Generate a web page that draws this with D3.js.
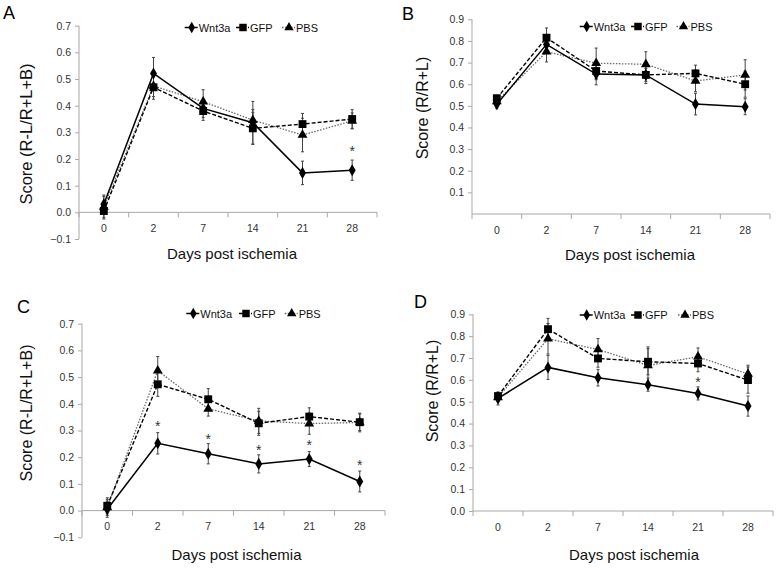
<!DOCTYPE html>
<html>
<head>
<meta charset="utf-8">
<script src="https://cdn.jsdelivr.net/npm/d3@7"></script>
<style>
  html, body { margin: 0; padding: 0; background: #fff; }
  svg { display: block; font-family: "Liberation Sans", Arial, sans-serif; }
</style>
</head>
<body>
<svg id="chart" width="777" height="568"></svg>
<script>
// ---------------- DATA ----------------
const days = ["0", "2", "7", "14", "21", "28"];
const seriesNames = ["Wnt3a", "GFP", "PBS"];

// Panel A : Score (R-L/R+L+B)
const aWnt3a    = [0.030, 0.521, 0.390, 0.336, 0.148, 0.158];
const aWnt3aErr = [0.035, 0.060, 0.035, 0.080, 0.044, 0.038];
const aGFP      = [0.005, 0.469, 0.380, 0.315, 0.331, 0.350];
const aGFPErr   = [0.030, 0.045, 0.035, 0.060, 0.040, 0.035];
const aPBS      = [0.020, 0.474, 0.415, 0.346, 0.290, 0.343];
const aPBSErr   = [0.040, 0.040, 0.045, 0.040, 0.063, 0.030];
const aStars    = [null, null, null, null, null, 0.237];
const aTicks    = [-0.1, 0.0, 0.1, 0.2, 0.3, 0.4, 0.5, 0.6, 0.7];

// Panel B : Score (R/R+L)
const bWnt3a    = [0.507, 0.784, 0.647, 0.643, 0.508, 0.496];
const bWnt3aErr = [0.020, 0.040, 0.050, 0.040, 0.050, 0.037];
const bGFP      = [0.535, 0.815, 0.661, 0.643, 0.650, 0.600];
const bGFPErr   = [0.015, 0.045, 0.040, 0.030, 0.038, 0.060];
const bPBS      = [0.520, 0.750, 0.697, 0.692, 0.615, 0.643];
const bPBSErr   = [0.020, 0.047, 0.070, 0.058, 0.050, 0.070];
const bStars    = [null, null, null, null, null, null];
const bTicks    = [0.1, 0.2, 0.3, 0.4, 0.5, 0.6, 0.7, 0.8, 0.9];

// Panel C : Score (R-L/R+L+B)
const cWnt3a    = [0.005, 0.252, 0.213, 0.175, 0.193, 0.109];
const cWnt3aErr = [0.030, 0.040, 0.038, 0.034, 0.028, 0.039];
const cGFP      = [0.018, 0.473, 0.417, 0.327, 0.352, 0.331];
const cGFPErr   = [0.030, 0.045, 0.040, 0.045, 0.033, 0.031];
const cPBS      = [0.012, 0.524, 0.381, 0.336, 0.326, 0.330];
const cPBSErr   = [0.030, 0.053, 0.027, 0.047, 0.040, 0.035];
const cStars    = [null, 0.325, 0.277, 0.236, 0.252, 0.180];
const cTicks    = [-0.1, 0.0, 0.1, 0.2, 0.3, 0.4, 0.5, 0.6, 0.7];

// Panel D : Score (R/R+L)
const dWnt3a    = [0.515, 0.657, 0.610, 0.578, 0.538, 0.480];
const dWnt3aErr = [0.030, 0.055, 0.038, 0.030, 0.030, 0.046];
const dGFP      = [0.526, 0.832, 0.698, 0.683, 0.675, 0.599];
const dGFPErr   = [0.015, 0.049, 0.040, 0.060, 0.038, 0.060];
const dPBS      = [0.520, 0.788, 0.739, 0.666, 0.706, 0.627];
const dPBSErr   = [0.020, 0.070, 0.050, 0.085, 0.040, 0.040];
const dStars    = [null, null, null, null, 0.599, null];
const dTicks    = [0.0, 0.1, 0.2, 0.3, 0.4, 0.5, 0.6, 0.7, 0.8, 0.9];

const xTitle = "Days post ischemia";

// ---------------- STYLES ----------------
const styles = {
  Wnt3a: { symbol: d3.symbolDiamond, size: 42, stroke: "#000", width: 1.5, dash: null },
  GFP:   { symbol: d3.symbolSquare,  size: 62, stroke: "#000", width: 1.4, dash: "4,2" },
  PBS:   { symbol: d3.symbolTriangle, size: 42, stroke: "#6a6a6a", width: 1.3, dash: "1.5,1.5" }
};
const axisColor = "#a8a8a8";
const labelColor = "#333";

const svg = d3.select("#chart");

const panels = [
  { letter: "A", letterXY: [3, 19], yTitle: "Score (R-L/R+L+B)", yTitleXY: [32, 134], yTitleSize: 16.5,
    xr: [79, 377], yd: [-0.1, 0.7], yr: [239, 25.7], ticks: aTicks, xTitleXY: [232, 259],
    legend: { y: 27.5, xs: [191.7, 243, 289] },
    data: { Wnt3a: [aWnt3a, aWnt3aErr], GFP: [aGFP, aGFPErr], PBS: [aPBS, aPBSErr] }, stars: aStars },
  { letter: "B", letterXY: [402, 20], yTitle: "Score (R/R+L)", yTitleXY: [428, 108], yTitleSize: 16,
    xr: [472, 770], yd: [0, 0.9], yr: [214, 19.3], ticks: bTicks, xTitleXY: [630, 260],
    legend: { y: 26.5, xs: [586.7, 638, 683.5] },
    data: { Wnt3a: [bWnt3a, bWnt3aErr], GFP: [bGFP, bGFPErr], PBS: [bPBS, bPBSErr] }, stars: bStars },
  { letter: "C", letterXY: [17, 313], yTitle: "Score (R-L/R+L+B)", yTitleXY: [32, 413], yTitleSize: 16,
    xr: [82, 385], yd: [-0.1, 0.7], yr: [537.3, 323.7], ticks: cTicks, xTitleXY: [236.5, 560],
    legend: { y: 313.5, xs: [193.3, 246, 291.7] },
    data: { Wnt3a: [cWnt3a, cWnt3aErr], GFP: [cGFP, cGFPErr], PBS: [cPBS, cPBSErr] }, stars: cStars },
  { letter: "D", letterXY: [414, 308], yTitle: "Score (R/R+L)", yTitleXY: [438, 391], yTitleSize: 16,
    xr: [473, 773], yd: [0, 0.9], yr: [511, 314.3], ticks: dTicks, xTitleXY: [634, 560],
    legend: { y: 315, xs: [586.7, 638, 685] },
    data: { Wnt3a: [dWnt3a, dWnt3aErr], GFP: [dGFP, dGFPErr], PBS: [dPBS, dPBSErr] }, stars: dStars }
];

panels.forEach(p => {
  const g = svg.append("g");
  const x = d3.scaleBand().domain(days).range(p.xr);
  const y = d3.scaleLinear().domain(p.yd).range(p.yr);
  const cx = d => x(d) + x.bandwidth() / 2;
  const y0 = y(0);

  // y axis
  const yAxis = d3.axisLeft(y).tickValues(p.ticks).tickFormat(d3.format(".1f")).tickSize(4).tickPadding(4);
  const ya = g.append("g").attr("transform", `translate(${p.xr[0]},0)`).call(yAxis);
  ya.select(".domain").attr("stroke", axisColor).attr("d", `M-0,${p.yr[0]}V${p.yr[1]}`);
  ya.selectAll(".tick line").attr("stroke", axisColor);
  ya.selectAll(".tick text").attr("fill", labelColor).style("font-size", "10.5px").style("font-family", "Liberation Sans, Arial, sans-serif");

  // x axis (category axis at y=0, ticks between categories)
  const xa = g.append("g").attr("transform", `translate(0,${y0})`);
  xa.append("line").attr("x1", p.xr[0]).attr("x2", p.xr[1]).attr("stroke", axisColor);
  const bounds = days.map(d => x(d)).concat([p.xr[1]]);
  xa.selectAll("line.tk").data(bounds).enter().append("line").attr("class", "tk")
    .attr("x1", d => d).attr("x2", d => d).attr("y1", 0).attr("y2", 5).attr("stroke", axisColor);
  xa.selectAll("text").data(days).enter().append("text")
    .attr("x", d => cx(d)).attr("y", 19.5).attr("text-anchor", "middle")
    .attr("fill", labelColor).style("font-size", "10.5px").text(d => d);

  // series
  const order = ["PBS", "GFP", "Wnt3a"];
  order.forEach(name => {
    const vals = p.data[name][0], errs = p.data[name][1];
    const pts = days.map((d, i) => ({ d, v: vals[i], e: errs[i] }));
    const eb = g.append("g").attr("stroke", "#444").attr("stroke-width", 1);
    pts.forEach(pt => {
      const xx = cx(pt.d);
      eb.append("line").attr("x1", xx).attr("x2", xx).attr("y1", y(pt.v - pt.e)).attr("y2", y(pt.v + pt.e));
      eb.append("line").attr("x1", xx - 1.5).attr("x2", xx + 1.5).attr("y1", y(pt.v - pt.e)).attr("y2", y(pt.v - pt.e));
      eb.append("line").attr("x1", xx - 1.5).attr("x2", xx + 1.5).attr("y1", y(pt.v + pt.e)).attr("y2", y(pt.v + pt.e));
    });
  });
  order.forEach(name => {
    const st = styles[name];
    const vals = p.data[name][0];
    const pts = days.map((d, i) => ({ d, v: vals[i] }));
    const line = d3.line().x(pt => cx(pt.d)).y(pt => y(pt.v));
    g.append("path").datum(pts).attr("d", line).attr("fill", "none")
      .attr("stroke", st.stroke).attr("stroke-width", st.width)
      .attr("stroke-dasharray", st.dash);
  });
  order.forEach(name => {
    const st = styles[name];
    const vals = p.data[name][0];
    const pts = days.map((d, i) => ({ d, v: vals[i] }));
    g.selectAll(null).data(pts).enter().append("path")
      .attr("d", d3.symbol().type(st.symbol).size(st.size))
      .attr("transform", pt => `translate(${cx(pt.d)},${y(pt.v)})`)
      .attr("fill", "#000");
  });

  // significance stars
  g.selectAll(null).data(days.map((d, i) => ({ d, s: p.stars[i] })).filter(o => o.s != null))
    .enter().append("text")
    .attr("x", o => cx(o.d)).attr("y", o => y(o.s) + 7)
    .attr("text-anchor", "middle").attr("fill", "#333").style("font-size", "14px").text("*");

  // legend
  seriesNames.forEach((name, i) => {
    const st = styles[name];
    const mx = p.legend.xs[i], my = p.legend.y;
    g.append("line").attr("x1", mx - 7).attr("x2", mx + 6).attr("y1", my).attr("y2", my)
      .attr("stroke", st.stroke).attr("stroke-width", st.width).attr("stroke-dasharray", st.dash);
    g.append("path").attr("d", d3.symbol().type(st.symbol).size(st.size * 0.9)())
      .attr("transform", `translate(${mx},${my})`).attr("fill", "#000");
    g.append("text").attr("x", mx + 7).attr("y", my + 4).attr("fill", "#111")
      .style("font-size", "11px").text(name);
  });

  // titles
  g.append("text").attr("x", p.xTitleXY[0]).attr("y", p.xTitleXY[1]).attr("text-anchor", "middle")
    .attr("fill", "#111").style("font-size", "15px").text(xTitle);
  g.append("text").attr("transform", `translate(${p.yTitleXY[0]},${p.yTitleXY[1]}) rotate(-90)`)
    .attr("text-anchor", "middle").attr("fill", "#111").style("font-size", p.yTitleSize + "px").text(p.yTitle);
  g.append("text").attr("x", p.letterXY[0]).attr("y", p.letterXY[1])
    .attr("fill", "#000").style("font-size", "18px").text(p.letter);
});
</script>
</body>
</html>
